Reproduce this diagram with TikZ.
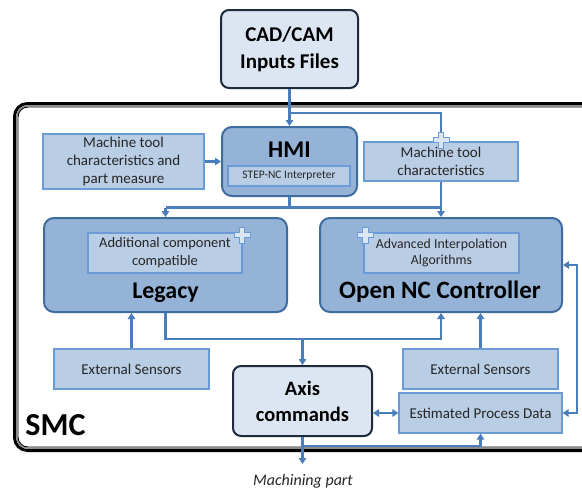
\documentclass[tikz,border=0pt]{standalone}
\usepackage{fontspec}
\setmainfont{Carlito}
\usetikzlibrary{arrows.meta}
\definecolor{midfill}{HTML}{95B3D7}
\definecolor{midline}{HTML}{3F6C9F}
\definecolor{litefill}{HTML}{B9CDE5}
\definecolor{liteline}{HTML}{6B9BD6}
\definecolor{palefill}{HTML}{DCE6F2}
\definecolor{navyline}{HTML}{1E2B3E}
\definecolor{conncol}{HTML}{4A7EBB}
\tikzset{
  bigbox/.style={draw=midline, fill=midfill, line width=2pt, rounded corners=10pt, inner sep=0pt},
  litebox/.style={draw=liteline, fill=litefill, line width=1.2pt, inner sep=0pt, align=center, text=black!85, font=\fontsize{15}{18}\selectfont},
  darkbox/.style={draw=navyline, fill=palefill, line width=2pt, rounded corners=8pt, inner sep=0pt, align=center},
  titletxt/.style={font=\bfseries\fontsize{24}{26}\selectfont, inner sep=0pt},
  cline/.style={draw=conncol, line width=2.2pt},
  arr/.style={cline, -{Triangle[length=6pt,width=7.5pt]}},
  twoway/.style={cline, {Triangle[length=6pt,width=7.5pt]}-{Triangle[length=6pt,width=7.5pt]}},
  plusicon/.pic={\draw[liteline, fill=palefill, line width=1pt] (-2.6,-8)--(2.6,-8)--(2.6,-2.6)--(8,-2.6)--(8,2.6)--(2.6,2.6)--(2.6,8)--(-2.6,8)--(-2.6,2.6)--(-8,2.6)--(-8,-2.6)--(-2.6,-2.6)--cycle;}
}
\begin{document}
\begin{tikzpicture}[x=1pt,y=-1pt]
\useasboundingbox[fill=white] (0,0) rectangle (582,490);
% SMC frame
\begin{scope}
\clip (0,0) rectangle (582,490);
\draw[black, line width=3pt, rounded corners=13pt] (14.5,103.5) rectangle (640,450.5);
\draw[black!45, line width=1.2pt, rounded corners=11pt] (16.8,105.8) rectangle (640,448.2);
\draw[black, line width=0.9pt, rounded corners=10pt] (18,107) rectangle (640,447);
\end{scope}
\node[font=\bfseries\fontsize{32}{34}\selectfont, inner sep=0pt] (smc) at (55.5,425) {SMC};

% nodes
\node[darkbox, minimum width=137pt, minimum height=78pt, font=\bfseries\fontsize{21}{27}\selectfont] (cad) at (289.5,49) {CAD/CAM\\Inputs Files};
\node[bigbox, minimum width=135pt, minimum height=69pt] (hmi) at (289.5,161.5) {};
\node[titletxt] (hmitxt) at (289.5,150) {HMI};
\node[litebox, minimum width=122pt, minimum height=20pt, font=\fontsize{11.5}{14}\selectfont] (step) at (289,176) {STEP-NC Interpreter};
\node[litebox, minimum width=161pt, minimum height=55pt] (mtcpm) at (123.5,161.5) {Machine tool\\characteristics and\\part measure};
\node[litebox, minimum width=154pt, minimum height=39pt] (mtc) at (441,161.5) {Machine tool\\characteristics};
\node[bigbox, minimum width=243pt, minimum height=94pt] (legacy) at (165.5,265) {};
\node[litebox, minimum width=154pt, minimum height=40pt, font=\fontsize{14.5}{18}\selectfont] (acc) at (165,253) {Additional component\\compatible};
\node[titletxt] (legtxt) at (165.5,293) {Legacy};
\node[bigbox, minimum width=242pt, minimum height=94pt] (onc) at (441,265) {};
\node[litebox, minimum width=155pt, minimum height=40pt, font=\fontsize{13.8}{16.5}\selectfont] (aia) at (441.5,253) {Advanced Interpolation\\Algorithms};
\node[titletxt, font=\bfseries\fontsize{25}{27}\selectfont] (onctxt) at (440,292) {Open NC Controller};
\node[litebox, minimum width=155pt, minimum height=40pt] (es1) at (131.5,369) {External Sensors};
\node[litebox, minimum width=155pt, minimum height=40pt] (es2) at (480.5,369) {External Sensors};
\node[litebox, minimum width=163pt, minimum height=40pt] (epd) at (480.5,413) {Estimated Process Data};
\node[darkbox, minimum width=139pt, minimum height=70pt, font=\bfseries\fontsize{20.5}{26}\selectfont] (axis) at (302.5,401) {Axis\\commands};
\node[font=\itshape\fontsize{16}{18}\selectfont, text=black!85, inner sep=0pt] (mp) at (303,481) {Machining part};

% connectors
\coordinate (j1) at (289.5,113);
\coordinate (j2l) at (165.5,207.5);
\coordinate (j2r) at (441,207.5);
\coordinate (j3) at (165.5,339);
\coordinate (j4) at (302.5,446);
\coordinate (mpend) at (302.5,464);
\coordinate (r1) at (577,265);
\coordinate (r2) at (577,413);

\draw[arr] (cad.south) -- (hmi.north);
\draw[cline] (j1) -| (mtc.north);
\draw[arr] (mtc.south) -- (onc.north);
\draw[arr] (mtcpm.east) -- (mtcpm.east -| hmi.west);
\draw[cline] (hmi.south) -- (hmi.south |- j2l);
\draw[cline] (j2l) -- (j2r);
\draw[arr] (j2l) -- (legacy.north);
\draw[arr] (legacy.south) -- (j3) -| (onc.south);
\draw[arr] (axis.north |- j3) -- (axis.north);
\draw[arr] (es1.north) -- (es1.north |- legacy.south);
\draw[arr] (es2.north) -- (es2.north |- onc.south);
\draw[twoway] (axis.east |- epd.west) -- (epd.west);
\draw[arr] (axis.south) -- (mpend);
\draw[arr] (j4) -| (epd.south);
\draw[twoway] (onc.east) -- (r1) -- (r2) -- (epd.east);

% plus icons
\pic (plus1) at (441,140) {plusicon};
\pic (plus2) at (242,235) {plusicon};
\pic (plus3) at (365.5,235) {plusicon};
\end{tikzpicture}
\end{document}
